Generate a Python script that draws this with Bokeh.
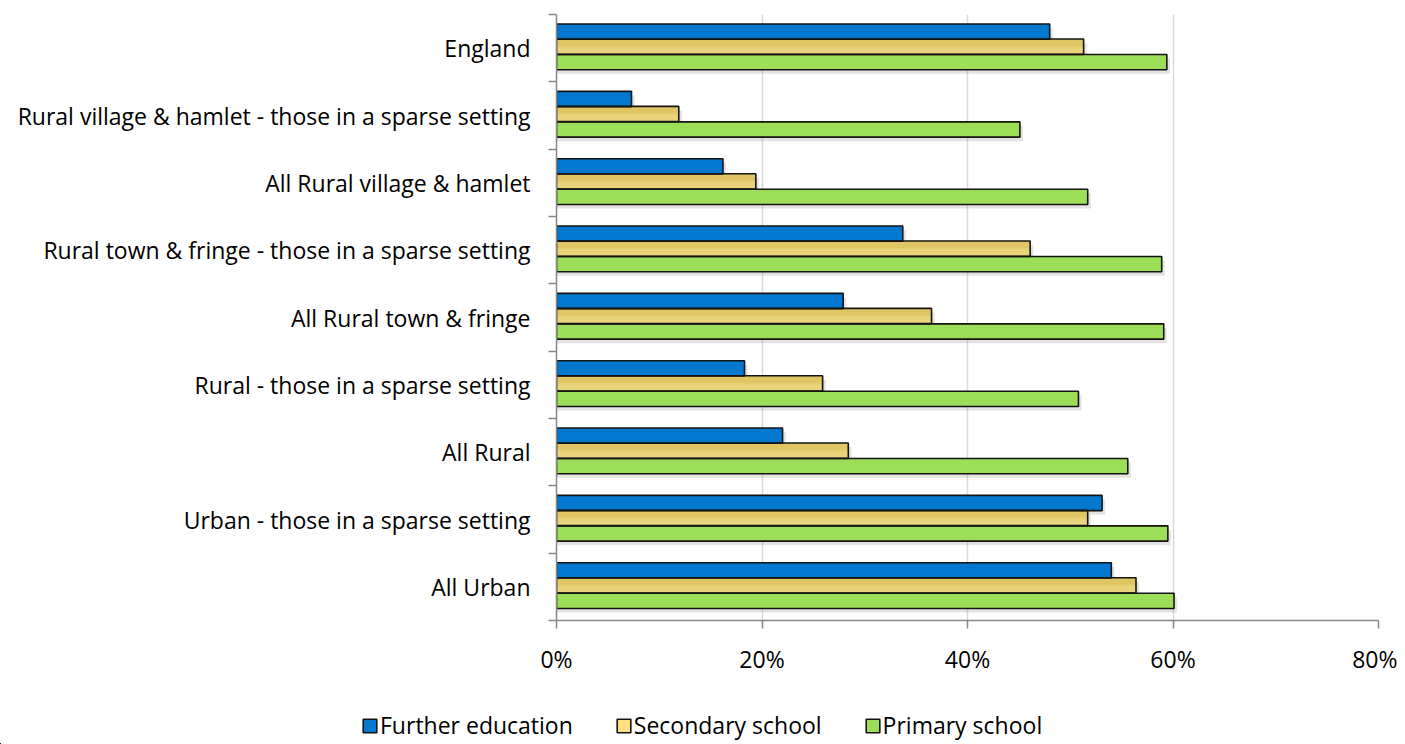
from bokeh.plotting import figure
from bokeh.models import (ColumnDataSource, Range1d, FixedTicker, Legend, LegendItem,
                          CustomJSTickFormatter)
from bokeh.layouts import column, row
from bokeh.transform import dodge
from bokeh.embed import file_html
from bokeh.resources import INLINE

categories = [
    "England",
    "Rural village & hamlet - those in a sparse setting",
    "All Rural village & hamlet",
    "Rural town & fringe - those in a sparse setting",
    "All Rural town & fringe",
    "Rural - those in a sparse setting",
    "All Rural",
    "Urban - those in a sparse setting",
    "All Urban",
]
further_education = [48.0, 7.3, 16.2, 33.7, 27.9, 18.3, 22.0, 53.1, 54.0]
secondary_school = [51.3, 11.9, 19.4, 46.1, 36.5, 25.9, 28.4, 51.7, 56.4]
primary_school = [59.4, 45.1, 51.7, 58.9, 59.1, 50.8, 55.6, 59.5, 60.1]
series_names = ["Further education", "Secondary school", "Primary school"]
x_ticks = [0, 20, 40, 60, 80]

n = len(categories)
centers = [n - 1 - i + 0.5 for i in range(n)]
boundaries = list(range(n + 1))

src = ColumnDataSource(dict(y=centers, fe=further_education,
                            ss=secondary_school, ps=primary_school))

FONT = "Open Sans"
FS = "23px"
COLORS = ["#0478CE", "#EAD47B", "#9DDE59"]
LEGEND_COLORS = ["#0478CE", "#FFE27F", "#9DDE59"]
OUTLINE = "#141414"

p = figure(width=1397, height=690, output_backend="svg", toolbar_location=None,
           x_range=Range1d(0, 80), y_range=Range1d(0, n),
           min_border_left=556, min_border_right=19, min_border_top=14,
           min_border_bottom=70)
p.outline_line_color = None
p.background_fill_color = "white"

H = 0.227
specs = [("fe", 0.245), ("ss", 0.022), ("ps", -0.208)]
# soft shadows
for field, off in specs:
    p.hbar(y=dodge("y", off - 0.06, range=p.y_range), left=0,
           right=dodge(field, 0.3, range=p.x_range), height=H,
           source=src, fill_color="#808080", fill_alpha=0.22, line_color=None)
# bar fills
for (field, off), col in zip(specs, COLORS):
    p.hbar(y=dodge("y", off, range=p.y_range), left=0, right=field, height=H,
           source=src, fill_color=col, line_color=None)
# gradient shading on the secondary-school bars (darker at the top)
p.hbar(y=dodge("y", 0.022 + H * 0.28, range=p.y_range), left=0, right="ss", height=H * 0.44,
       source=src, fill_color="#D6B850", fill_alpha=0.55, line_color=None)
p.hbar(y=dodge("y", 0.022 + H * 0.02, range=p.y_range), left=0, right="ss", height=H * 0.16,
       source=src, fill_color="#DDC262", fill_alpha=0.35, line_color=None)
# outlines
for field, off in specs:
    p.hbar(y=dodge("y", off, range=p.y_range), left=0, right=field, height=H,
           source=src, fill_color=None, line_color=OUTLINE, line_width=1.6)

# x axis
p.xaxis.ticker = FixedTicker(ticks=x_ticks)
p.xaxis.formatter = CustomJSTickFormatter(code="return tick + '%';")
p.xaxis.axis_line_color = "#868686"
p.xaxis.axis_line_width = 1.5
p.xaxis.major_tick_line_color = "#868686"
p.xaxis.major_tick_line_width = 1.5
p.xaxis.major_tick_out = 8
p.xaxis.major_tick_in = 0
p.xaxis.minor_tick_line_color = None
p.xaxis.major_label_standoff = 14
p.xaxis.major_label_text_font = FONT
p.xaxis.major_label_text_font_size = FS
p.xaxis.major_label_text_color = "#000000"

# y axis
p.yaxis.ticker = FixedTicker(ticks=centers, minor_ticks=boundaries)
p.yaxis.major_label_overrides = {c: name for c, name in zip(centers, categories)}
p.yaxis.axis_line_color = "#868686"
p.yaxis.axis_line_width = 1.5
p.yaxis.major_tick_line_color = None
p.yaxis.major_tick_out = 0
p.yaxis.major_tick_in = 0
p.yaxis.minor_tick_line_color = "#868686"
p.yaxis.minor_tick_line_width = 1.5
p.yaxis.minor_tick_out = 8
p.yaxis.minor_tick_in = 0
p.yaxis.major_label_standoff = 18
p.yaxis.major_label_text_font = FONT
p.yaxis.major_label_text_font_size = FS
p.yaxis.major_label_text_color = "#000000"

p.xgrid.ticker = FixedTicker(ticks=x_ticks)
p.xgrid.grid_line_color = "#D9D9D9"
p.xgrid.grid_line_width = 1.5
p.ygrid.grid_line_color = None

# legend strip (its renderers use the same data, but lie entirely outside this strip's ranges)
lg = figure(width=1397, height=54, output_backend="svg", toolbar_location=None,
            x_range=Range1d(1000, 1001), y_range=Range1d(1000, 1001),
            min_border_left=0, min_border_right=0, min_border_top=0, min_border_bottom=0)
lg.axis.visible = False
lg.grid.visible = False
lg.outline_line_color = None
items = []
for nm, (field, off), col in zip(series_names, specs, LEGEND_COLORS):
    r = lg.hbar(y="y", left=0, right=field, height=H, source=src, fill_color=col,
                line_color=OUTLINE, line_width=1.6)
    items.append(LegendItem(label=nm, renderers=[r]))
legend = Legend(items=items, orientation="horizontal", location=(361, 3),
                label_text_font=FONT, label_text_font_size=FS, label_text_color="#000000",
                glyph_width=17, glyph_height=17, label_standoff=2, spacing=42,
                padding=0, margin=0, border_line_color=None, background_fill_alpha=0)
lg.add_layout(legend, "center")

layout = column(p, row(lg), spacing=0)
open("out.html", "w").write(file_html(layout, INLINE))
